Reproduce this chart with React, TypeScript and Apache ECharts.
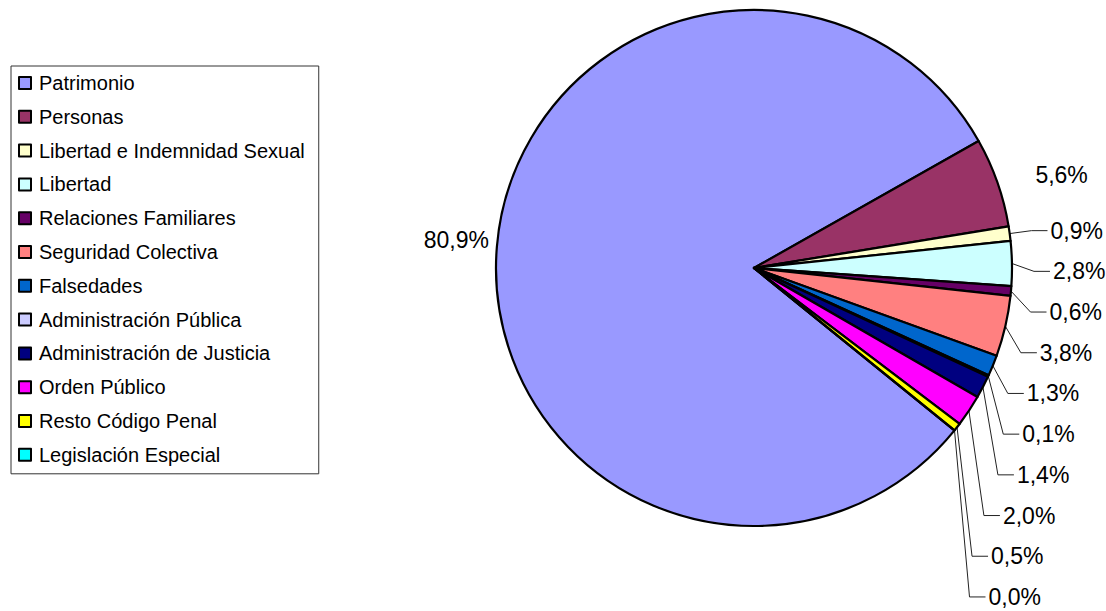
import { useEffect, useRef } from "react";
import * as echarts from "echarts";

// Categories and their share of the total (%)
const categories = [
  "Patrimonio",
  "Personas",
  "Libertad e Indemnidad Sexual",
  "Libertad",
  "Relaciones Familiares",
  "Seguridad Colectiva",
  "Falsedades",
  "Administración Pública",
  "Administración de Justicia",
  "Orden Público",
  "Resto Código Penal",
  "Legislación Especial",
];
const shares = [80.9, 5.6, 0.9, 2.8, 0.6, 3.8, 1.3, 0.1, 1.4, 2.0, 0.5, 0.0];
const sliceColors = [
  "#9999FF", "#993366", "#FFFFCC", "#CCFFFF", "#660066", "#FF8080",
  "#0066CC", "#CCCCFF", "#000080", "#FF00FF", "#FFFF00", "#00FFFF",
];

// Pie geometry (pixels / degrees)
const CX = 754;
const CY = 268;
const R = 258;
const START_ANGLE = 321;

// Label placement settings
const FONT = "'Liberation Sans', Arial, Helvetica, sans-serif";
const LEADER_R = 280;      // radius where leader lines bend
const LABEL_STEP = 40.7;   // minimum vertical distance between stacked labels
const ELBOW_MIN = 15;      // minimum horizontal run of the first leader segment
const TAIL = 16;           // horizontal leader segment length
const TEXT_GAP = 3;        // gap between leader end and text
const RIM_GAP_LEFT = 8;    // big slices: gap between rim and label
const RIM_GAP_RIGHT = 38;
const RIM_LIFT = 7;        // big slices: label raised above the rim point
const BIG_SLICE = 5;       // slices at least this large get no leader line

type LabelPlace = { x: number; y: number; align: "left" | "right"; points: number[][] | null };

function computeLabelPlaces(): LabelPlace[] {
  const total = shares.reduce((a, b) => a + b, 0);
  let angle = START_ANGLE;
  let prevY = -Infinity;
  return shares.map((v) => {
    const sweep = (v / total) * 360;
    const mid = ((angle - sweep / 2) * Math.PI) / 180;
    angle -= sweep;
    const cos = Math.cos(mid);
    const sin = Math.sin(mid);
    const ex = CX + R * cos;
    const ey = CY - R * sin;
    const right = cos >= 0;
    if (v >= BIG_SLICE) {
      const gap = right ? RIM_GAP_RIGHT : RIM_GAP_LEFT;
      const y = ey - RIM_LIFT;
      if (right) prevY = y;
      return { x: ex + (right ? gap : -gap), y, align: right ? "left" : "right", points: null };
    }
    let y = CY - LEADER_R * sin;
    y = Math.max(y, prevY + LABEL_STEP);
    prevY = y;
    const dy = y - CY;
    const circleX = Math.abs(dy) < LEADER_R ? CX + Math.sqrt(LEADER_R * LEADER_R - dy * dy) : -Infinity;
    const elbowX = Math.max(circleX, ex + ELBOW_MIN);
    const endX = elbowX + TAIL;
    return {
      x: endX + TEXT_GAP,
      y,
      align: "left",
      points: [
        [ex, ey],
        [elbowX, y],
        [endX, y],
      ],
    };
  });
}

export default function App() {
  const ref = useRef<HTMLDivElement>(null);

  useEffect(() => {
    if (!ref.current) return;
    const chart = echarts.init(ref.current, undefined, { renderer: "svg" });
    const places = computeLabelPlaces();

    chart.setOption({
      animation: false,
      backgroundColor: "#ffffff",
      legend: {
        orient: "vertical",
        left: 11,
        top: 66,
        padding: [7, 14, 9, 7],
        itemGap: 13.8,
        itemWidth: 12,
        itemHeight: 12,
        icon: "rect",
        selectedMode: false,
        backgroundColor: "#ffffff",
        borderColor: "#333333",
        borderWidth: 1,
        borderRadius: 0,
        itemStyle: { borderColor: "#000000", borderWidth: 2 },
        textStyle: {
          fontFamily: FONT,
          fontSize: 20,
          lineHeight: 20,
          color: "#000000",
          padding: [0, 0, 0, 3],
        },
        data: categories,
      },
      series: [
        {
          type: "pie",
          center: [CX, CY],
          radius: R,
          startAngle: START_ANGLE,
          clockwise: true,
          avoidLabelOverlap: false,
          silent: true,
          itemStyle: { borderColor: "#000000", borderWidth: 2.2 },
          emphasis: { disabled: true },
          label: {
            show: true,
            position: "outside",
            fontFamily: FONT,
            fontSize: 23,
            color: "#000000",
            formatter: (p: any) => p.value.toFixed(1).replace(".", ",") + "%",
          },
          labelLine: {
            show: true,
            smooth: false,
            lineStyle: { color: "#222222", width: 1 },
          },
          labelLayout: (params: any) => {
            const pl = places[params.dataIndex];
            const out: any = { x: pl.x, y: pl.y, align: pl.align, verticalAlign: "middle" };
            if (pl.points) out.labelLinePoints = pl.points;
            return out;
          },
          data: categories.map((name, i) => ({
            name,
            value: shares[i],
            itemStyle: { color: sliceColors[i] },
            labelLine: { show: shares[i] < BIG_SLICE },
          })),
        },
      ],
    });

    return () => chart.dispose();
  }, []);

  return (
    <div
      ref={ref}
      style={{ position: "fixed", left: 0, top: 0, width: 1106, height: 611 }}
    />
  );
}
